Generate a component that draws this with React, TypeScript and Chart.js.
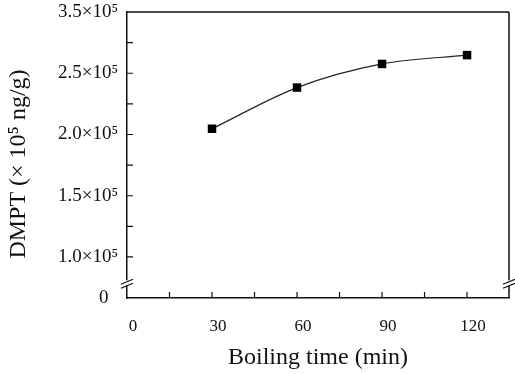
import React, { useEffect, useRef } from "react";
import { Chart, registerables } from "chart.js";

Chart.register(...registerables);

// ---- data ----
const boilingTimes = [30, 60, 90, 120];
const dmptValues = [204700, 238300, 257600, 264800];

const xAxisMin = 0;
const xAxisMax = 134.8;
const xTickValues = [0, 15, 30, 45, 60, 75, 90, 105, 120];
const xTickLabels: Record<number, string> = { 0: "0", 30: "30", 60: "60", 90: "90", 120: "120" };

const yAxisMin = 66500;
const yAxisMax = 300000;
const yTickValues = [66500, 100000, 125000, 150000, 175000, 200000, 225000, 250000, 275000, 300000];
const yTickLabels: Record<number, string> = {
  66500: "0  ",
  100000: "1.0×10⁵",
  150000: "1.5×10⁵",
  200000: "2.0×10⁵",
  250000: "2.5×10⁵",
  300000: "3.5×10⁵",
};
const yBreakValue = 78500;

const xTitle = "Boiling time (min)";
const yTitle = "DMPT (× 10⁵ ng/g)   ";

const FONT = "'Liberation Serif', 'Times New Roman', serif";
const INK = "#111";

const framePlugin = {
  id: "frameAndInwardTicks",
  afterDraw(chart: any) {
    const { ctx, chartArea } = chart;
    const { left, right, top, bottom } = chartArea;
    const xs = chart.scales.x;
    const ys = chart.scales.y;
    const tickLen = 6;
    ctx.save();
    ctx.strokeStyle = INK;
    ctx.lineWidth = 1.5;
    ctx.beginPath();
    ctx.moveTo(left, top);
    ctx.lineTo(right, top);
    ctx.moveTo(right, top);
    ctx.lineTo(right, bottom);
    ctx.stroke();
    ctx.lineWidth = 1.2;
    ctx.beginPath();
    for (const v of xTickValues) {
      if (v === xAxisMin) continue;
      const px = xs.getPixelForValue(v);
      ctx.moveTo(px, bottom);
      ctx.lineTo(px, bottom - tickLen);
    }
    for (const v of yTickValues) {
      if (v === yAxisMin || v === yAxisMax) continue;
      const py = ys.getPixelForValue(v);
      ctx.moveTo(left, py);
      ctx.lineTo(left + tickLen, py);
    }
    ctx.stroke();
    const by = ys.getPixelForValue(yBreakValue);
    const drawBreak = (x: number) => {
      ctx.fillStyle = "#fff";
      ctx.fillRect(x - 3, by - 3, 6, 5);
      ctx.strokeStyle = INK;
      ctx.lineWidth = 1.2;
      ctx.beginPath();
      ctx.moveTo(x - 6, by + 1);
      ctx.lineTo(x + 6, by - 4);
      ctx.moveTo(x - 6, by + 5);
      ctx.lineTo(x + 6, by);
      ctx.stroke();
    };
    drawBreak(left);
    drawBreak(right);
    ctx.restore();
  },
};

export default function App() {
  const canvasRef = useRef<HTMLCanvasElement | null>(null);

  useEffect(() => {
    document.body.style.margin = "0";
    const canvas = canvasRef.current;
    if (!canvas) return;
    const chart = new Chart(canvas, {
      type: "line",
      data: {
        datasets: [
          {
            data: boilingTimes.map((t, i) => ({ x: t, y: dmptValues[i] })),
            borderColor: "#222",
            borderWidth: 1.2,
            backgroundColor: "#000",
            pointStyle: "rect",
            pointRadius: 6,
            pointBorderWidth: 0,
            pointBackgroundColor: "#000",
            cubicInterpolationMode: "monotone",
            fill: false,
          },
        ],
      },
      options: {
        animation: false,
        responsive: false,
        layout: { padding: { top: 12, right: 6, left: 0, bottom: 0 } },
        plugins: { legend: { display: false }, tooltip: { enabled: false } },
        scales: {
          x: {
            type: "linear",
            min: xAxisMin,
            max: xAxisMax,
            afterBuildTicks: (scale: any) => {
              scale.ticks = xTickValues.map((v) => ({ value: v }));
            },
            afterFit: (scale: any) => {
              scale.height = 76;
              scale.paddingLeft = 0;
              scale.paddingRight = 0;
            },
            grid: { display: false },
            border: { display: true, color: INK, width: 1.5 },
            ticks: {
              autoSkip: false,
              maxRotation: 0,
              padding: 10,
              labelOffset: 6,
              color: INK,
              font: { family: FONT, size: 17 },
              callback: (v: any) => xTickLabels[v] ?? "",
            },
            title: {
              display: true,
              text: xTitle,
              color: INK,
              font: { family: FONT, size: 24 },
              padding: { top: 4, bottom: 2 },
            },
          },
          y: {
            type: "linear",
            min: yAxisMin,
            max: yAxisMax,
            afterBuildTicks: (scale: any) => {
              scale.ticks = yTickValues.map((v) => ({ value: v }));
            },
            afterFit: (scale: any) => {
              scale.width = 127;
              scale.paddingTop = 0;
              scale.paddingBottom = 0;
            },
            grid: { display: false },
            border: { display: true, color: INK, width: 1.5 },
            ticks: {
              autoSkip: false,
              padding: 1,
              color: INK,
              font: { family: FONT, size: 19 },
              callback: (v: any) => yTickLabels[v] ?? "",
            },
            title: {
              display: true,
              text: yTitle,
              color: INK,
              font: { family: FONT, size: 24 },
              padding: { top: 4, bottom: 4 },
            },
          },
        },
      },
      plugins: [framePlugin],
    } as any);
    return () => chart.destroy();
  }, []);

  return (
    <div style={{ width: 515, height: 374 }}>
      <canvas ref={canvasRef} width={515} height={374} style={{ width: 515, height: 374, display: "block" }} />
    </div>
  );
}
